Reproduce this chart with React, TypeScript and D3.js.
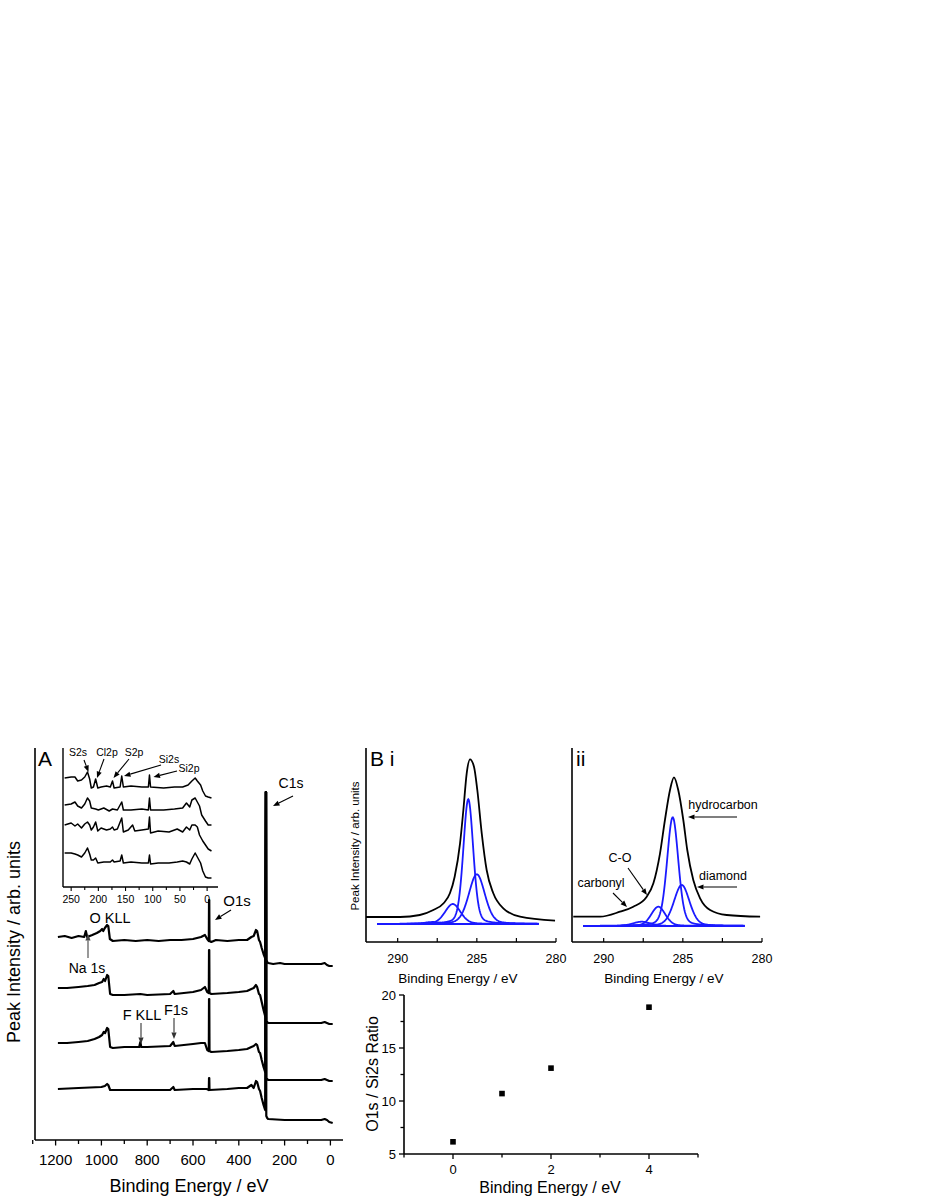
import * as d3 from 'd3';
import React from 'react';

const W = 926;
const H = 1199;
const FONT = '"Liberation Sans", Arial, Helvetica, sans-serif';
const BLUE = '#1a1aff';

// ---- panel A: survey spectra, [binding energy eV, intensity arb.] ----
const survey1 = [
  [1190, 203], [1160, 204], [1130, 202], [1100, 204], [1075, 203], [1068, 209], [1062, 203], [1040, 205],
  [1020, 207], [1005, 209], [997, 211], [992, 209], [985, 212], [975, 215], [970, 214], [963, 201],
  [950, 199], [900, 200], [850, 199], [800, 200], [750, 199], [700, 200], [650, 200], [600, 201],
  [565, 203], [548, 205], [538, 201], [531, 199], [530, 240], [529, 240], [528, 199], [520, 198],
  [500, 200], [450, 199], [400, 200], [364, 200], [345, 203], [335, 204], [325, 210], [320, 209],
  [312, 200], [307, 198], [300, 192], [292, 186], [285, 182], [282, 348], [281, 348], [280, 180],
  [276, 178], [272, 177], [250, 176], [220, 177], [200, 176], [150, 176], [100, 176], [60, 176],
  [40, 176], [25, 177], [15, 175], [5, 174], [-10, 174],
];
const survey2 = [
  [1190, 152], [1150, 152], [1100, 153], [1060, 154], [1030, 155], [1010, 157], [997, 158], [990, 161],
  [984, 159], [975, 165], [970, 164], [962, 146], [950, 145], [900, 145], [830, 146], [800, 145],
  [700, 146], [686, 149], [680, 146], [600, 148], [565, 150], [548, 153], [538, 148], [531, 147],
  [530, 190], [529, 190], [528, 147], [520, 146], [450, 147], [400, 148], [364, 149], [345, 151],
  [335, 152], [325, 155], [320, 153], [312, 146], [307, 145], [300, 138], [292, 130], [285, 124],
  [282, 348], [281, 348], [280, 119], [276, 118], [272, 117], [200, 117], [100, 117], [40, 117],
  [25, 118], [15, 117], [5, 116], [-10, 116],
];
const survey3 = [
  [1190, 97], [1150, 97], [1100, 98], [1060, 99], [1030, 101], [1010, 103], [997, 105], [990, 108],
  [984, 107], [975, 112], [970, 111], [962, 93], [950, 92], [900, 93], [835, 93], [830, 98],
  [826, 93], [800, 93], [700, 94], [686, 98], [680, 94], [600, 96], [565, 97], [548, 97],
  [538, 90], [531, 89], [530, 141], [529, 141], [528, 89], [520, 88], [450, 89], [400, 90],
  [364, 91], [345, 93], [335, 94], [325, 96], [320, 95], [312, 88], [307, 87], [300, 80],
  [292, 73], [285, 68], [282, 348], [281, 348], [280, 62], [276, 61], [272, 60], [200, 60],
  [100, 60], [40, 60], [25, 61], [15, 60], [5, 59], [-10, 59],
];
const survey4 = [
  [1190, 51], [1100, 52], [1000, 53], [985, 54], [975, 56], [970, 55], [962, 50], [900, 50],
  [800, 50], [700, 50], [686, 53], [680, 50], [600, 51], [540, 51], [531, 50], [530, 62],
  [529, 62], [528, 50], [450, 51], [400, 52], [364, 52], [345, 55], [335, 52], [325, 59],
  [320, 58], [312, 51], [307, 49], [300, 42], [292, 35], [285, 30], [282, 348], [281, 348],
  [280, 24], [276, 22], [272, 21], [200, 20], [100, 20], [40, 20], [25, 21], [15, 20],
  [5, 18], [-10, 17],
];
const surveys = [survey1, survey2, survey3, survey4];
const surveyTickLabels = [1200, 1000, 800, 600, 400, 200, 0];

// ---- inset: low binding energy region ----
const inset1 = [
  [262, 109], [250, 110], [243, 110], [238, 106], [231, 107], [225, 110], [220, 115], [216, 108],
  [213, 99], [209, 100], [205, 108], [201, 99], [195, 100], [185, 101], [178, 100], [174, 106],
  [171, 99], [160, 100], [157, 111], [154, 100], [140, 101], [120, 100], [108, 100], [106, 112],
  [104, 100], [80, 99], [60, 100], [45, 100], [35, 102], [28, 106], [22, 109], [18, 106],
  [12, 102], [8, 96], [3, 91], [-2, 90], [-8, 89],
];
const inset2 = [
  [262, 82], [250, 83], [243, 85], [238, 81], [231, 79], [225, 83], [220, 89], [216, 86],
  [213, 79], [205, 78], [200, 77], [190, 79], [180, 76], [174, 78], [165, 77], [157, 85],
  [154, 77], [140, 77], [120, 78], [108, 77], [106, 89], [104, 77], [80, 77], [60, 78],
  [45, 79], [38, 84], [32, 80], [28, 87], [22, 89], [18, 85], [14, 81], [10, 72],
  [3, 66], [-2, 62], [-8, 62],
];
const inset3 = [
  [262, 62], [250, 64], [243, 61], [238, 63], [231, 59], [225, 63], [220, 65], [216, 62],
  [213, 57], [209, 60], [205, 65], [201, 56], [195, 59], [185, 57], [178, 58], [174, 60],
  [171, 57], [165, 58], [157, 69], [154, 55], [145, 57], [137, 62], [133, 56], [120, 57],
  [108, 58], [106, 70], [104, 54], [90, 56], [70, 55], [55, 58], [45, 55], [38, 60],
  [32, 57], [28, 62], [22, 62], [18, 60], [14, 52], [8, 46], [3, 42], [-2, 38], [-8, 36],
];
const inset4 = [
  [262, 34], [250, 34], [243, 33], [238, 32], [231, 30], [225, 34], [220, 39], [216, 33],
  [213, 27], [209, 27], [205, 29], [201, 24], [190, 25], [178, 25], [174, 27], [171, 25],
  [160, 26], [157, 32], [154, 24], [140, 25], [120, 24], [108, 24], [106, 32], [104, 23],
  [90, 24], [70, 24], [55, 25], [45, 26], [38, 25], [32, 23], [28, 28], [22, 34],
  [18, 30], [12, 24], [8, 16], [3, 10], [-2, 9], [-8, 9],
];
const insets = [inset1, inset2, inset3, inset4];
const insetTickLabels = [250, 200, 150, 100, 50, 0];

// ---- panel B: C1s high resolution, measured envelope ----
const envelopeI = [
  [292, 25], [289.85, 25], [288.6, 27], [287.75, 32], [287.1, 38.7], [286.7, 48.7], [286.4, 65.3],
  [286.06, 98.7], [285.85, 132], [285.64, 168.7], [285.43, 182.7], [285.18, 175.3], [284.97, 152],
  [284.69, 108.7], [284.38, 72], [283.96, 48.7], [283.33, 33.7], [282.27, 25.3], [280.06, 21.3],
];
const envelopeII = [
  [291.92, 25.3], [290.23, 25.3], [288.97, 30.3], [288.13, 35.3], [287.28, 45.3], [286.86, 58.7],
  [286.44, 88.7], [286.13, 122], [285.81, 152], [285.56, 164.7], [285.29, 152], [284.97, 122],
  [284.72, 92], [284.34, 62], [283.91, 43.7], [283.28, 32], [282.23, 27], [280.12, 25.3],
];
// fitted components: centre eV, height, fwhm eV
const fitI = [
  { name: 'carbonyl', center: 287.8, height: 2, fwhm: 1.2 },
  { name: 'C-O', center: 286.52, height: 20, fwhm: 1.16 },
  { name: 'hydrocarbon', center: 285.54, height: 124.7, fwhm: 0.74 },
  { name: 'diamond', center: 285.0, height: 49.7, fwhm: 1.2 },
];
const fitII = [
  { name: 'carbonyl', center: 287.6, height: 4.3, fwhm: 1.3 },
  { name: 'C-O', center: 286.55, height: 19.3, fwhm: 1.05 },
  { name: 'hydrocarbon', center: 285.64, height: 108.7, fwhm: 0.84 },
  { name: 'diamond', center: 285.07, height: 41, fwhm: 1.16 },
];
const highResTickLabels = [290, 285, 280];

// ---- panel C: ratio ----
const ratioX = [0, 1, 2, 4];
const ratioY = [6.15, 10.7, 13.1, 18.85];
const ratioXTicks = [0, 2, 4];
const ratioYTicks = [5, 10, 15, 20];

const pv = (e: number, c: { center: number; height: number; fwhm: number }) => {
  const t = (e - c.center) / c.fwhm;
  const g = Math.exp(-4 * Math.LN2 * t * t);
  const l = 1 / (1 + 4 * t * t);
  return c.height * (0.25 * l + 0.75 * g);
};

const Arrow = ({ x1, y1, x2, y2, color = '#000' }: any) => {
  const a = Math.atan2(y2 - y1, x2 - x1);
  const L = 6.5, hw = 2.6;
  const bx = x2 - L * Math.cos(a), by = y2 - L * Math.sin(a);
  const p = [
    [x2, y2],
    [bx - hw * Math.sin(a), by + hw * Math.cos(a)],
    [bx + hw * Math.sin(a), by - hw * Math.cos(a)],
  ];
  return (
    <g>
      <line x1={x1} y1={y1} x2={bx} y2={by} stroke={color} strokeWidth={1.1} />
      <polygon points={p.map(q => q.join(',')).join(' ')} fill={color} />
    </g>
  );
};

const Label = ({ x, y, size, children, anchor = 'middle', rotate = false }: any) => (
  <text
    x={rotate ? 0 : x}
    y={rotate ? 0 : y}
    transform={rotate ? `translate(${x},${y}) rotate(-90)` : undefined}
    fontSize={size}
    textAnchor={anchor}
    fontFamily={FONT}
    fill="#000"
  >
    {children}
  </text>
);

const HighRes = ({ x0, envelope, fit, baseline, yLabel, tag }: any) => {
  const x = d3.scaleLinear().domain([292, 280]).range([x0, x0 + 190]);
  const y = d3.scaleLinear().domain([0, 194]).range([942, 748]);
  const env = d3.line<number[]>().x(d => x(d[0])).y(d => y(d[1])).curve(d3.curveMonotoneX);
  const grid = d3.range(291.3, 281.08, -0.03);
  const comp = d3.line<number>().x(e => x(e)).y(e => y(baseline + 0)).curve(d3.curveLinear);
  const ticks = d3.range(290, 279.9, -2.5);
  return (
    <g>
      <line x1={x0} y1={748} x2={x0} y2={942} stroke="#000" strokeWidth={1.6} />
      <line x1={x0} y1={942} x2={x0 + 190} y2={942} stroke="#000" strokeWidth={1.6} />
      {ticks.map(t => (
        <line key={t} x1={x(t)} x2={x(t)} y1={942} y2={938} stroke="#000" strokeWidth={1.2} />
      ))}
      {highResTickLabels.map(t => (
        <Label key={t} x={x(t)} y={963} size={12.5}>{t}</Label>
      ))}
      <Label x={x(286.2)} y={983} size={13.5}>Binding Energy / eV</Label>
      <path d={comp(grid) || ''} fill="none" stroke={BLUE} strokeWidth={2} />
      {fit.map((c: any) => (
        <path
          key={c.name}
          d={d3.line<number>().x(e => x(e)).y(e => y(baseline + pv(e, c)))(grid) || ''}
          fill="none"
          stroke={BLUE}
          strokeWidth={1.8}
        />
      ))}
      <path d={env(envelope) || ''} fill="none" stroke="#000" strokeWidth={1.8} />
      <Label x={x0 + 4} y={766} size={21} anchor="start">{tag}</Label>
      {yLabel && <Label x={359} y={846} size={11.5} rotate>Peak Intensity / arb. units</Label>}
    </g>
  );
};

export default function App() {
  // panel A scales
  const ax = d3.scaleLinear().domain([1290, -55]).range([35, 343]);
  const ay = d3.scaleLinear().domain([0, 392]).range([1140, 748]);
  const surveyLine = d3.line<number[]>().x(d => ax(d[0])).y(d => ay(d[1]));
  const ix = d3.scaleLinear().domain([265, -20]).range([63, 218]);
  const iy = d3.scaleLinear().domain([0, 139]).range([887, 748]);
  const insetLine = d3.line<number[]>().x(d => ix(d[0])).y(d => iy(d[1]));

  // panel C scales
  const cx = d3.scaleLinear().domain([-1, 5]).range([404, 698]);
  const cy = d3.scaleLinear().domain([5, 20]).range([1154, 995]);

  return (
    <svg width={W} height={H} style={{ position: 'absolute', left: 0, top: 0, background: '#fff' }}>
      <rect width={W} height={H} fill="#fff" />

      {/* ---------- panel A ---------- */}
      <line x1={35} y1={748} x2={35} y2={1140} stroke="#000" strokeWidth={1.6} />
      <line x1={35} y1={1140} x2={343} y2={1140} stroke="#000" strokeWidth={1.6} />
      {d3.range(1300, -1, -100).map(t => (
        <line key={t} x1={ax(t)} x2={ax(t)} y1={1140} y2={t % 200 === 0 ? 1145.5 : 1144}
          stroke="#000" strokeWidth={1.3} />
      ))}
      {surveyTickLabels.map(t => (
        <Label key={t} x={ax(t)} y={1165} size={15}>{t}</Label>
      ))}
      <Label x={189} y={1192} size={18}>Binding Energy / eV</Label>
      <Label x={20} y={942} size={18} rotate>Peak Intensity / arb. units</Label>
      <Label x={38} y={766} size={21} anchor="start">A</Label>

      {surveys.map((s, i) => (
        <path key={i} d={surveyLine(s) || ''} fill="none" stroke="#000" strokeWidth={2.2}
          strokeLinejoin="round" />
      ))}

      {/* inset */}
      <line x1={63} y1={748} x2={63} y2={887} stroke="#000" strokeWidth={1.4} />
      <line x1={63} y1={887} x2={218} y2={887} stroke="#000" strokeWidth={1.4} />
      {d3.range(250, -1, -25).map(t => (
        <line key={t} x1={ix(t)} x2={ix(t)} y1={887} y2={t % 50 === 0 ? 891 : 890}
          stroke="#000" strokeWidth={1.1} />
      ))}
      {insetTickLabels.map(t => (
        <Label key={t} x={ix(t)} y={903} size={10.5}>{t}</Label>
      ))}
      {insets.map((s, i) => (
        <path key={i} d={insetLine(s) || ''} fill="none" stroke="#000" strokeWidth={1.5}
          strokeLinejoin="round" />
      ))}
      <Label x={78} y={756} size={10.5}>S2s</Label>
      <Label x={107} y={756} size={10.5}>Cl2p</Label>
      <Label x={134} y={756} size={10.5}>S2p</Label>
      <Label x={169} y={763} size={10.5}>Si2s</Label>
      <Label x={189} y={772} size={10.5}>Si2p</Label>
      <Arrow x1={84} y1={760} x2={88.5} y2={772} />
      <Arrow x1={104} y1={759} x2={97} y2={778} />
      <Arrow x1={129} y1={759} x2={113.5} y2={778} />
      <Arrow x1={161} y1={765} x2={124} y2={776} />
      <Arrow x1={177} y1={771} x2={153.5} y2={777} />

      {/* survey annotations */}
      <Label x={291} y={788} size={14}>C1s</Label>
      <Arrow x1={293} y1={796} x2={273} y2={806} />
      <Label x={237} y={906} size={15}>O1s</Label>
      <Arrow x1={231} y1={910} x2={215} y2={920} />
      <Label x={110} y={923} size={14.5}>O KLL</Label>
      <Label x={87} y={973} size={14}>Na 1s</Label>
      <Arrow x1={88} y1={958} x2={88} y2={934} color="#444" />
      <Label x={142} y={1020} size={14.5}>F KLL</Label>
      <Arrow x1={141} y1={1023} x2={141} y2={1044} color="#333" />
      <Label x={176} y={1015} size={14.5}>F1s</Label>
      <Arrow x1={174} y1={1018} x2={174} y2={1039} color="#333" />

      {/* ---------- panel B ---------- */}
      <HighRes x0={366} envelope={envelopeI} fit={fitI} baseline={18} yLabel tag="B i" />
      <HighRes x0={572} envelope={envelopeII} fit={fitII} baseline={16} tag="ii" />
      <Label x={723} y={809} size={12.5}>hydrocarbon</Label>
      <Arrow x1={737} y1={817} x2={688} y2={817} />
      <Label x={723} y={880} size={12.5}>diamond</Label>
      <Arrow x1={737} y1={887} x2={697} y2={887} />
      <Label x={620} y={862} size={12.5}>C-O</Label>
      <Arrow x1={628} y1={868} x2={647} y2={895} />
      <Label x={601} y={887} size={12.5}>carbonyl</Label>
      <Arrow x1={613} y1={893} x2={627} y2={907} />

      {/* ---------- panel C ---------- */}
      <line x1={404} y1={995} x2={404} y2={1154} stroke="#000" strokeWidth={1.6} />
      <line x1={404} y1={1154} x2={698} y2={1154} stroke="#000" strokeWidth={1.6} />
      {d3.range(-1, 5.01, 1).map(t => (
        <line key={t} x1={cx(t)} x2={cx(t)} y1={1154} y2={t % 2 === 0 ? 1159 : 1157.5}
          stroke="#000" strokeWidth={1.3} />
      ))}
      {d3.range(5, 20.01, 2.5).map(t => (
        <line key={t} x1={404} x2={t % 5 === 0 ? 399 : 400.5} y1={cy(t)} y2={cy(t)}
          stroke="#000" strokeWidth={1.3} />
      ))}
      {ratioXTicks.map(t => (
        <Label key={t} x={cx(t)} y={1174} size={13}>{t}</Label>
      ))}
      {ratioYTicks.map(t => (
        <Label key={t} x={396} y={cy(t) + 4.5} size={13} anchor="end">{t}</Label>
      ))}
      {ratioX.map((v, i) => (
        <rect key={i} x={cx(v) - 2.8} y={cy(ratioY[i]) - 2.8} width={5.6} height={5.6} fill="#000" />
      ))}
      <Label x={550} y={1193} size={16}>Binding Energy / eV</Label>
      <Label x={378} y={1074} size={16} rotate>O1s / Si2s Ratio</Label>
    </svg>
  );
}
